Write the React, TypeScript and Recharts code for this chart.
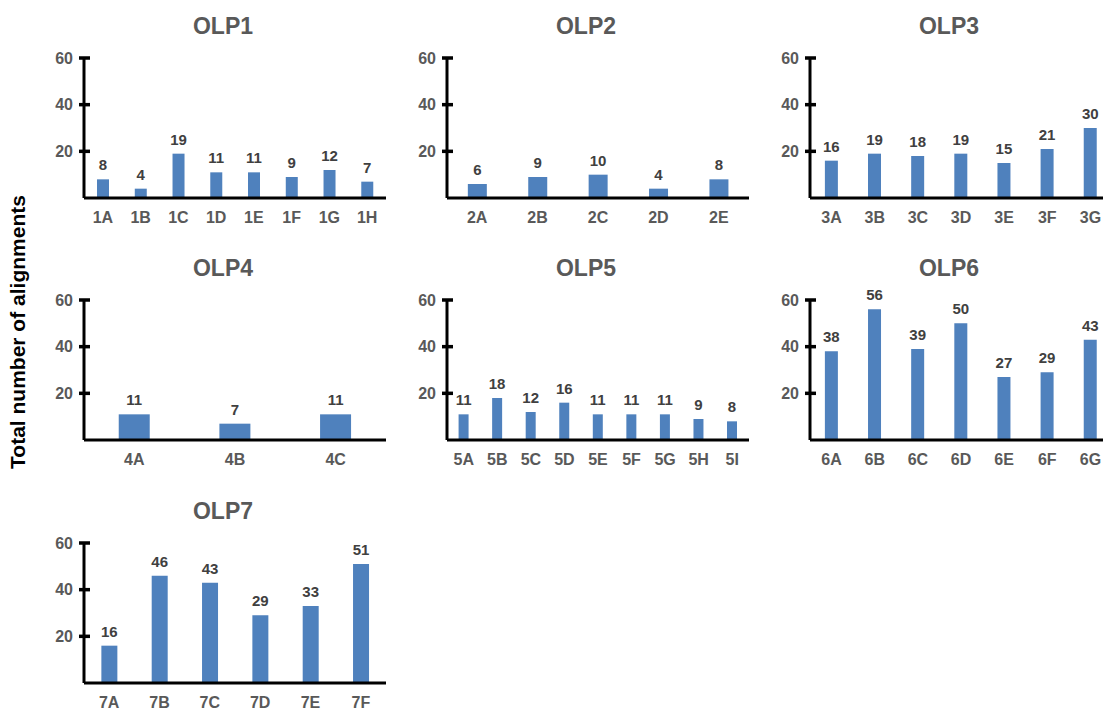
import React from 'react';
import { Bar, BarChart, LabelList, XAxis, YAxis } from 'recharts';

const olp1Names = ['1A', '1B', '1C', '1D', '1E', '1F', '1G', '1H'];
const olp1Values = [8, 4, 19, 11, 11, 9, 12, 7];
const olp2Names = ['2A', '2B', '2C', '2D', '2E'];
const olp2Values = [6, 9, 10, 4, 8];
const olp3Names = ['3A', '3B', '3C', '3D', '3E', '3F', '3G'];
const olp3Values = [16, 19, 18, 19, 15, 21, 30];
const olp4Names = ['4A', '4B', '4C'];
const olp4Values = [11, 7, 11];
const olp5Names = ['5A', '5B', '5C', '5D', '5E', '5F', '5G', '5H', '5I'];
const olp5Values = [11, 18, 12, 16, 11, 11, 11, 9, 8];
const olp6Names = ['6A', '6B', '6C', '6D', '6E', '6F', '6G'];
const olp6Values = [38, 56, 39, 50, 27, 29, 43];
const olp7Names = ['7A', '7B', '7C', '7D', '7E', '7F'];
const olp7Values = [16, 46, 43, 29, 33, 51];

const yTicks = [20, 40, 60];

const panels = [
  { title: 'OLP1', names: olp1Names, values: olp1Values },
  { title: 'OLP2', names: olp2Names, values: olp2Values },
  { title: 'OLP3', names: olp3Names, values: olp3Values },
  { title: 'OLP4', names: olp4Names, values: olp4Values },
  { title: 'OLP5', names: olp5Names, values: olp5Values },
  { title: 'OLP6', names: olp6Names, values: olp6Values },
  { title: 'OLP7', names: olp7Names, values: olp7Values },
];

const FONT = '"Liberation Sans", Arial, sans-serif';
const GRAY = '#595959';
const BLUE = '#4f81bd';
const Y_GAP = 11;

// cross-shaped tick on the axis plus the label to its left
const YTick = (props: any) => {
  const x = Number(props.x);
  const y = Number(props.y);
  const ax = x + Y_GAP;
  return (
    <g>
      <rect x={ax - 5} y={y - 1.75} width={11} height={3.5} fill="#000" />
      <text
        x={x}
        y={y}
        dy="0.36em"
        textAnchor="end"
        fill={GRAY}
        fontSize={16}
        fontWeight="bold"
        fontFamily={FONT}
      >
        {props.payload.value}
      </text>
    </g>
  );
};

function Panel({ title, names, values, axisX, plotTop }: any) {
  const data = names.map((n: string, i: number) => ({ name: n, value: values[i] }));
  return (
    <>
      <div
        style={{
          position: 'absolute',
          left: axisX + 139 - 60,
          top: plotTop - 32 - 14,
          width: 120,
          height: 28,
          lineHeight: '28px',
          textAlign: 'center',
          fontFamily: FONT,
          fontWeight: 'bold',
          fontSize: 23,
          color: GRAY,
        }}
      >
        {title}
      </div>
      <div style={{ position: 'absolute', left: axisX - 50, top: plotTop - 50 }}>
        <BarChart
          width={360}
          height={230}
          data={data}
          margin={{ top: 50, right: 8, bottom: 0, left: 0 }}
          barCategoryGap="34.5%"
        >
          <XAxis
            dataKey="name"
            height={40}
            axisLine={{ stroke: '#000', strokeWidth: 3 }}
            tickLine={false}
            tickSize={0}
            tickMargin={14}
            interval={0}
            tick={{ fill: GRAY, fontSize: 16, fontWeight: 'bold', fontFamily: FONT }}
          />
          <YAxis
            width={50}
            domain={[0, 60]}
            ticks={yTicks}
            axisLine={{ stroke: '#000', strokeWidth: 3 }}
            tickLine={false}
            tickSize={0}
            tickMargin={Y_GAP}
            tick={YTick}
          />
          <Bar dataKey="value" fill={BLUE} isAnimationActive={false}>
            <LabelList
              dataKey="value"
              position="top"
              offset={9}
              fill="#404040"
              fontSize={15}
              fontWeight="bold"
              fontFamily={FONT}
            />
          </Bar>
        </BarChart>
      </div>
    </>
  );
}

export default function App() {
  const axisXs = [84, 447, 810];
  const plotTops = [58, 300, 543];
  return (
    <div
      style={{
        position: 'absolute',
        left: 0,
        top: 0,
        width: 1103,
        height: 711,
        overflow: 'hidden',
        background: '#fff',
      }}
    >
      <div
        style={{
          position: 'absolute',
          left: 18 - 150,
          top: 332 - 14,
          width: 300,
          height: 28,
          lineHeight: '28px',
          textAlign: 'center',
          transform: 'rotate(-90deg)',
          fontFamily: FONT,
          fontWeight: 'bold',
          fontSize: 21,
          color: '#000',
          whiteSpace: 'nowrap',
        }}
      >
        Total number of alignments
      </div>
      {panels.map((p, i) => (
        <Panel
          key={p.title}
          title={p.title}
          names={p.names}
          values={p.values}
          axisX={axisXs[i % 3]}
          plotTop={plotTops[Math.floor(i / 3)]}
        />
      ))}
    </div>
  );
}
